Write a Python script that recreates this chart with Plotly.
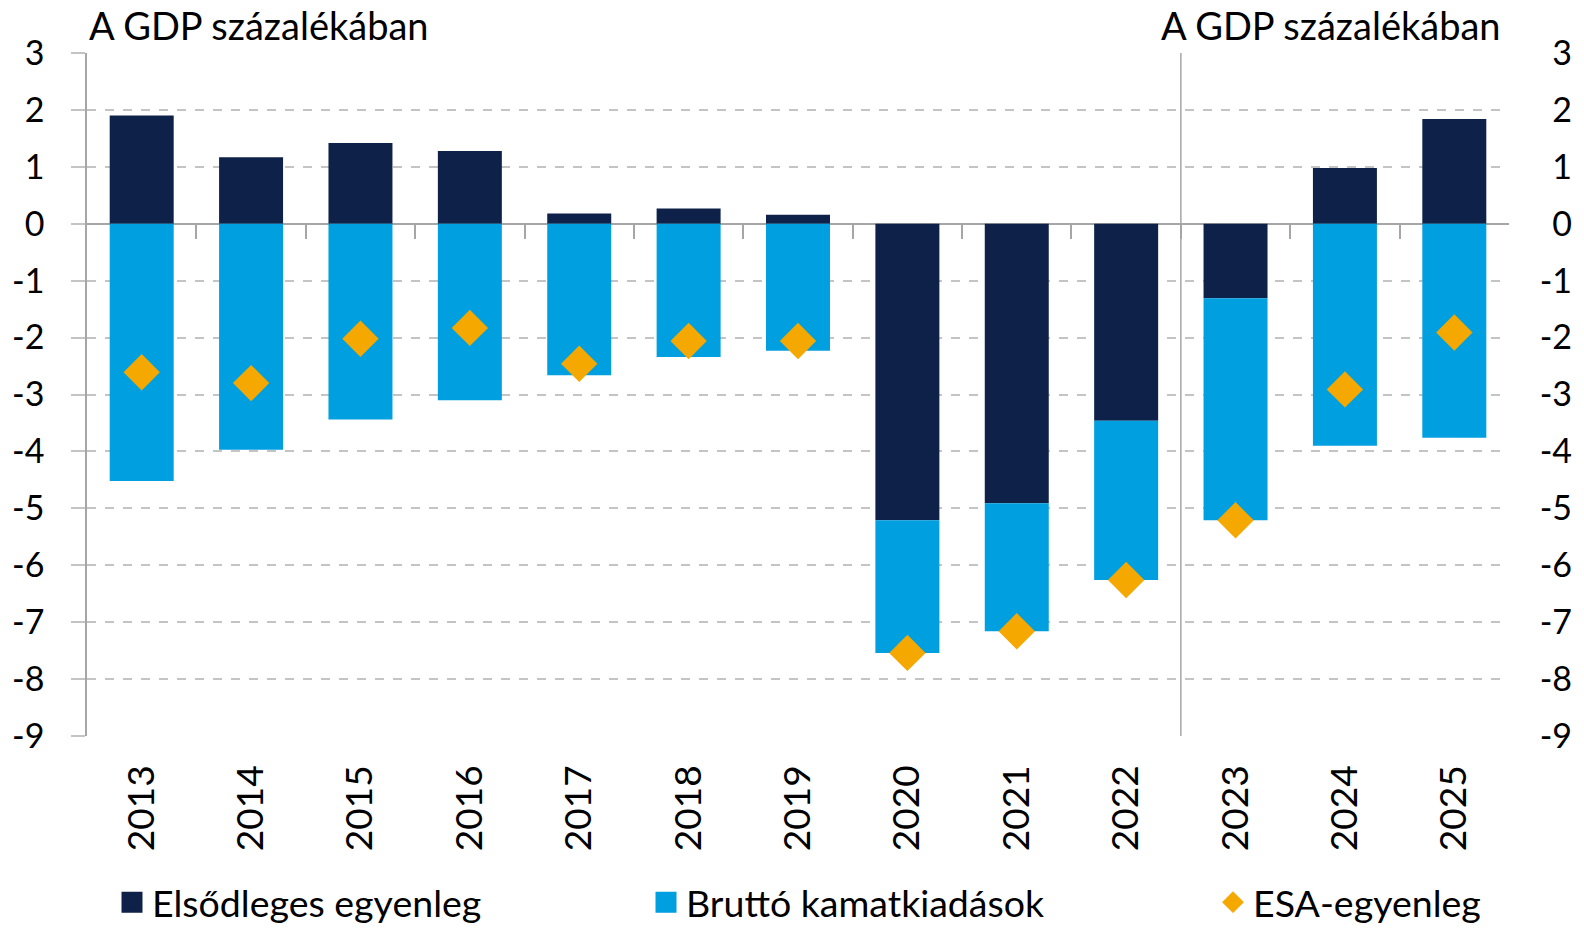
import plotly.graph_objects as go

years = [2013, 2014, 2015, 2016, 2017, 2018, 2019, 2020, 2021, 2022, 2023, 2024, 2025]
year_labels = [str(y) for y in years]
primary_balance = [1.90, 1.17, 1.42, 1.28, 0.18, 0.27, 0.16, -5.21, -4.91, -3.46, -1.31, 0.98, 1.84]
gross_interest = [-4.52, -3.97, -3.44, -3.10, -2.66, -2.34, -2.23, -2.33, -2.25, -2.80, -3.90, -3.90, -3.76]
esa_balance = [-2.61, -2.80, -2.02, -1.83, -2.46, -2.06, -2.06, -7.54, -7.16, -6.26, -5.21, -2.91, -1.91]
y_ticks = [3, 2, 1, 0, -1, -2, -3, -4, -5, -6, -7, -8, -9]
y_tick_labels = [str(v) for v in y_ticks]

names = ["Elsődleges egyenleg", "Bruttó kamatkiadások", "ESA-egyenleg"]
title_text = "A GDP százalékában"

NAVY = "#0E2148"
BLUE = "#009FDF"
ORANGE = "#F5A800"
GRID = "#C4C4C4"
AXIS = "#A6A6A6"
FONT = "Lato"

W, H = 1584, 928
ML, MR, MT, MB = 87, 9, 52.5, 191.5
plot_w = W - ML - MR
plot_h = H - MT - MB
x_end = (1509 - ML) / plot_w
yr = [min(y_ticks), max(y_ticks)]
zero_pos = (0 - yr[0]) / (yr[1] - yr[0])
leg_y = -(903 - (H - MB)) / plot_h

fig = go.Figure()
fig.add_trace(go.Bar(x=years, y=primary_balance, marker=dict(color=NAVY, line=dict(width=0)),
                     name=names[0], showlegend=False, xaxis="x", yaxis="y"))
fig.add_trace(go.Bar(x=years, y=gross_interest, marker=dict(color=BLUE, line=dict(width=0)),
                     name=names[1], showlegend=False, xaxis="x", yaxis="y"))
fig.add_trace(go.Scatter(x=years, y=esa_balance, mode="markers",
                         marker=dict(symbol="diamond", size=28, color=ORANGE, line=dict(width=0)),
                         name=names[2], showlegend=False, xaxis="x2", yaxis="y"))

# legend entries
leg_cfg = [(names[0], "square", NAVY, 16, 5, "legend"),
           (names[1], "square", BLUE, 16, 5, "legend2"),
           (names[2], "diamond", ORANGE, 16, 1, "legend3")]
for nm, sym, col, sz, lw, lg in leg_cfg:
    fig.add_trace(go.Scatter(x=[None], y=[None], mode="markers", name=nm,
                             marker=dict(symbol=sym, size=sz, color=col, line=dict(width=lw, color=col)),
                             legend=lg, xaxis="x", yaxis="y3", hoverinfo="skip"))

tick_font = dict(family=FONT, size=34, color="black")
leg_font = dict(family=FONT, size=37.5, color="black")
common_y = dict(range=yr, tickmode="array", tickvals=y_ticks, ticktext=y_tick_labels)


def legend_at(px):
    return dict(x=(px - ML) / plot_w, y=leg_y, xanchor="left", yanchor="middle", orientation="h",
                font=leg_font, bgcolor="rgba(0,0,0,0)")


fig.update_layout(
    width=W, height=H,
    margin=dict(l=ML, r=MR, t=MT, b=MB, autoexpand=False),
    paper_bgcolor="white", plot_bgcolor="white",
    barmode="relative", bargap=0.415,
    font=dict(family=FONT, color="black"),
    xaxis=dict(domain=[0, x_end], range=[years[0] - 0.5, years[-1] + 0.5],
               tickvals=years, ticktext=year_labels, tickangle=-90,
               tickfont=dict(family=FONT, size=37, color="black"),
               ticks="", showline=False, showgrid=False, zeroline=False,
               ticklabelstandoff=21),
    xaxis2=dict(overlaying="x", anchor="free", position=zero_pos,
                range=[years[0] - 0.5, years[-1] + 0.5],
                tickvals=[y + 0.5 for y in years[:-1]],
                ticks="outside", ticklen=14, tickwidth=1.5, tickcolor=AXIS,
                showticklabels=False, showline=False, showgrid=False, zeroline=False),
    yaxis=dict(**common_y, tickfont=tick_font, showline=True, linecolor=AXIS, linewidth=1.5,
               ticks="outside", ticklen=14, tickwidth=1.5, tickcolor=GRID,
               showgrid=True, gridcolor=GRID, gridwidth=1.5, griddash="dash",
               zeroline=True, zerolinecolor=AXIS, zerolinewidth=2,
               ticklabelstandoff=20),
    yaxis2=dict(**common_y, overlaying="y", anchor="x", side="right",
                showline=True, linecolor=AXIS, linewidth=1.5,
                ticks="outside", ticklen=14, tickwidth=1.5, tickcolor=GRID,
                showticklabels=False, showgrid=False, zeroline=False),
    yaxis3=dict(**common_y, overlaying="y", anchor="free", position=1, side="right",
                ticklabelposition="inside", ticklabeloverflow="allow", ticks="", tickfont=tick_font,
                showline=False, showgrid=False, zeroline=False),
    legend=legend_at(112),
    legend2=legend_at(646),
    legend3=legend_at(1213),
    shapes=[dict(type="line", xref="x", yref="y", x0=years[9] + 0.5, x1=years[9] + 0.5,
                 y0=yr[0], y1=yr[1], line=dict(color=AXIS, width=1.5))],
    annotations=[
        dict(text=title_text, xref="paper", yref="paper", x=0, y=1, xanchor="left", yanchor="middle",
             xshift=0, yshift=28, showarrow=False, font=dict(family=FONT, size=38, color="black")),
        dict(text=title_text, xref="paper", yref="paper", x=(1503 - ML) / plot_w, y=1,
             xanchor="right", yanchor="middle", yshift=28, showarrow=False,
             font=dict(family=FONT, size=38, color="black")),
    ],
)

fig.write_html("out.html", config={"displayModeBar": False},
               post_script="document.body.style.margin='0';")
